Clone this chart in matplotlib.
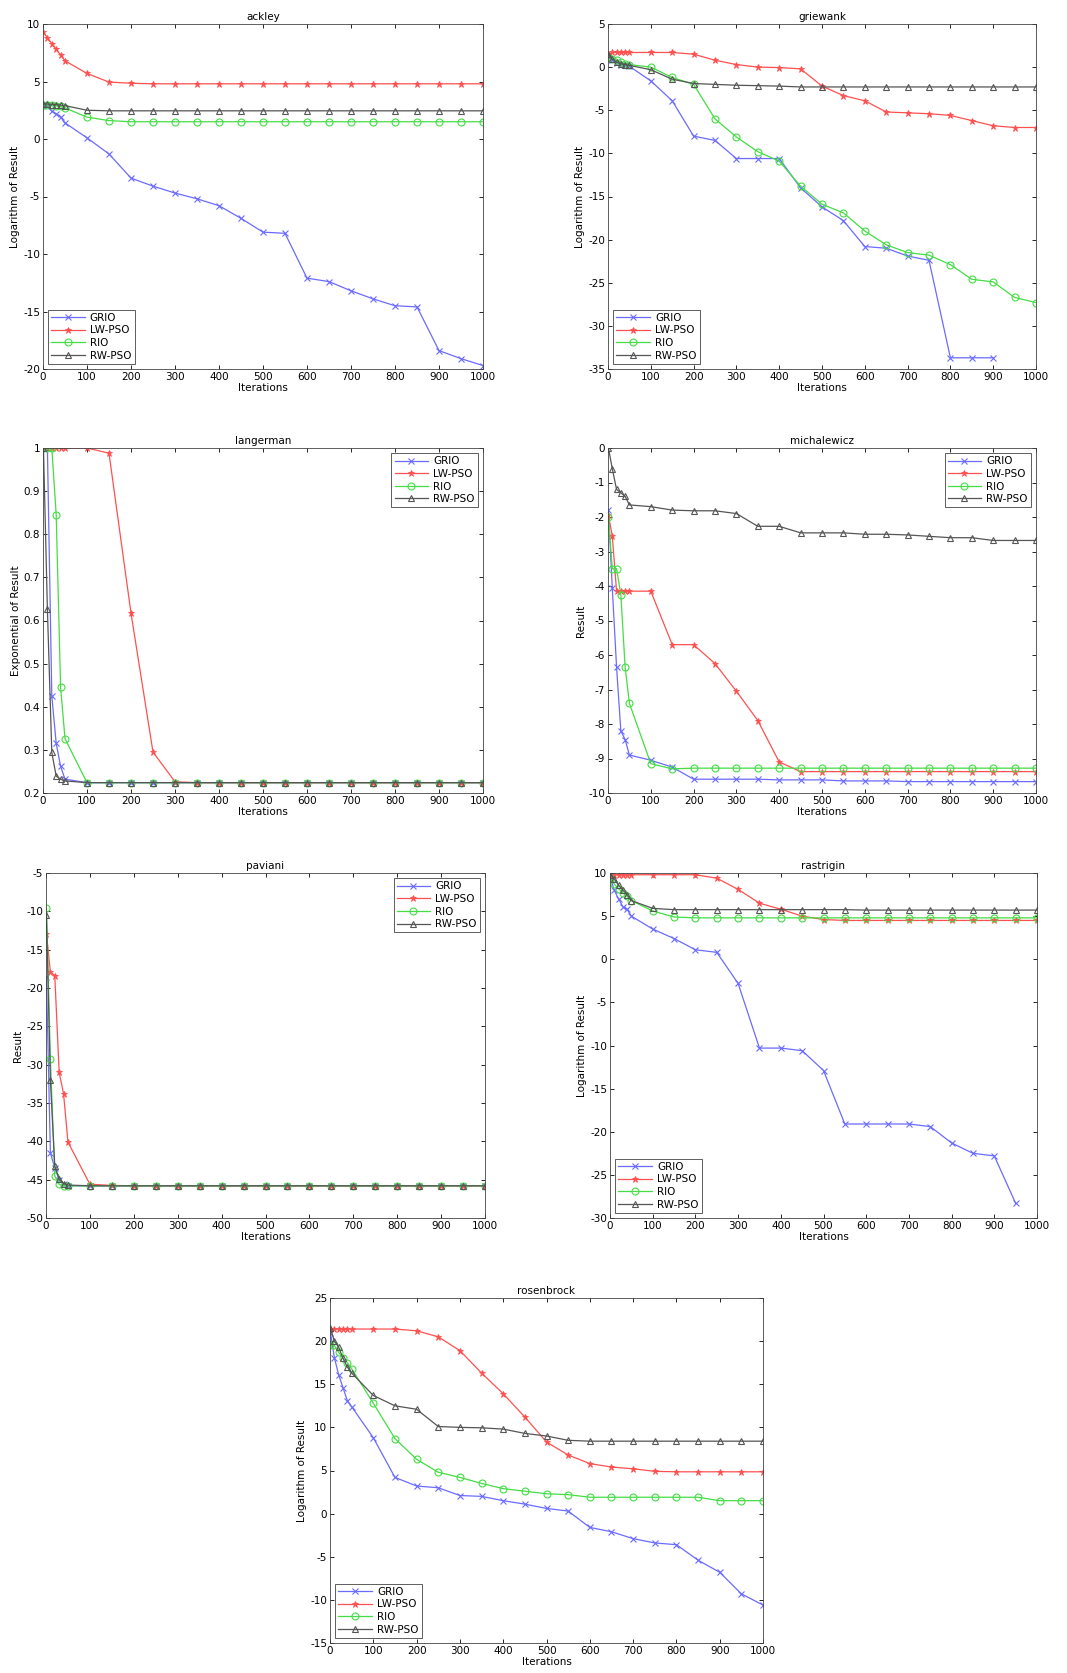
import numpy as np
import matplotlib
matplotlib.use('Agg')
import matplotlib.pyplot as plt

# iteration checkpoints
iters = [1, 10, 20, 30, 40, 50] + list(range(100, 1001, 50))
nan = np.nan

# ackley
ackley_grio = [3.0, 2.9, 2.4, 2.2, 1.9, 1.4, 0.1, -1.3, -3.4, -4.1, -4.7, -5.2, -5.8, -6.9, -8.1, -8.2,
               -12.1, -12.4, -13.2, -13.9, -14.5, -14.6, -18.4, -19.1, -19.7]
ackley_lw = [9.3, 8.8, 8.3, 7.8, 7.3, 6.8, 5.7, 4.95, 4.85] + [4.8] * 16
ackley_rio = [3.0, 3.0, 2.95, 2.9, 2.85, 2.7, 1.9, 1.6] + [1.5] * 17
ackley_rw = [3.05, 3.05, 3.0, 3.0, 2.95, 2.9, 2.5] + [2.45] * 18

# griewank
griewank_grio = [1.2, 0.8, 0.5, 0.3, 0.2, 0.1, -1.6, -3.9, -8.0, -8.5, -10.6, -10.6, -10.6, -14.0, -16.2,
                 -17.8, -20.8, -21.0, -21.9, -22.4, -33.7, -33.7, -33.7, nan, nan]
griewank_lw = [1.5, 1.7, 1.7, 1.7, 1.7, 1.7, 1.7, 1.7, 1.5, 0.8, 0.3, 0.0, -0.05, -0.2, -2.2, -3.3, -3.9,
               -5.2, -5.3, -5.4, -5.6, -6.2, -6.8, -7.0, -7.0]
griewank_rio = [1.2, 1.0, 0.8, 0.6, 0.4, 0.3, 0.0, -1.2, -2.0, -6.0, -8.1, -9.8, -10.9, -13.8, -15.9, -16.9,
                -19.0, -20.6, -21.5, -21.8, -22.9, -24.6, -24.9, -26.7, -27.3]
griewank_rw = [1.5, 0.9, 0.6, 0.4, 0.3, 0.2, -0.3, -1.4, -1.9, -2.0, -2.1, -2.15, -2.2] + [-2.3] * 12

# langerman
langerman_grio = [1.0, 1.0, 0.425, 0.315, 0.262, 0.232] + [0.224] * 19
langerman_lw = [1.0] * 7 + [0.988, 0.617, 0.295, 0.226] + [0.224] * 14
langerman_rio = [1.0, 1.0, 1.0, 0.845, 0.445, 0.326] + [0.224] * 19
langerman_rw = [1.0, 0.626, 0.294, 0.239, 0.232, 0.228] + [0.224] * 19

# michalewicz
mich_grio = [-1.8, -4.05, -6.35, -8.2, -8.45, -8.9, -9.05, -9.25, -9.6, -9.6, -9.6, -9.6, -9.62, -9.62,
             -9.62, -9.65, -9.65, -9.65] + [-9.67] * 7
mich_lw = [-1.95, -2.55, -4.15, -4.15, -4.15, -4.15, -4.15, -5.7, -5.7, -6.25, -7.05, -7.9, -9.1] + [-9.38] * 12
mich_rio = [-2.0, -3.5, -3.5, -4.25, -6.35, -7.4, -9.15, -9.3] + [-9.28] * 17
mich_rw = [0.0, -0.6, -1.2, -1.3, -1.4, -1.65, -1.7, -1.8, -1.82, -1.82, -1.9, -2.27, -2.27, -2.46, -2.46,
           -2.46, -2.5, -2.5, -2.52, -2.56, -2.6, -2.6, -2.68, -2.68, -2.68]

# paviani
pav_grio = [-18.5, -41.5, -43.5, -45.0, -45.6] + [-45.8] * 20
pav_lw = [-12.9, -17.9, -18.4, -31.0, -33.8, -40.1, -45.6, -45.75] + [-45.8] * 17
pav_rio = [-9.6, -29.2, -44.5, -45.6] + [-45.8] * 21
pav_rw = [-10.5, -32.0, -43.2, -44.9, -45.5, -45.7] + [-45.8] * 19

# rastrigin
ras_grio = [9.4, 8.0, 7.0, 6.1, 5.8, 5.0, 3.5, 2.4, 1.1, 0.8, -2.8, -10.3, -10.3, -10.6, -12.9, -19.1, -19.1,
            -19.1, -19.1, -19.4, -21.3, -22.5, -22.8, -28.3, nan]
ras_lw = [9.7] + [9.8] * 8 + [9.4, 8.1, 6.5, 5.8, 5.0, 4.6] + [4.5] * 10
ras_rio = [9.4, 8.7, 8.2, 7.7, 7.3, 6.8, 5.6, 4.9] + [4.8] * 17
ras_rw = [9.8, 9.3, 8.6, 8.0, 7.5, 6.8, 5.9] + [5.75] * 9 + [5.7] * 9

# rosenbrock
ros_grio = [21.0, 18.1, 16.1, 14.6, 13.1, 12.4, 8.8, 4.2, 3.2, 3.0, 2.1, 2.0, 1.5, 1.1, 0.6, 0.3, -1.6, -2.1,
            -2.9, -3.4, -3.6, -5.4, -6.8, -9.3, -10.6]
ros_lw = [21.4] * 8 + [21.2, 20.5, 18.9, 16.3, 13.9, 11.2, 8.3, 6.8, 5.8, 5.4, 5.2, 4.9] + [4.85] * 5
ros_rio = [19.6, 19.5, 18.7, 18.0, 17.5, 16.8, 12.8, 8.7, 6.3, 4.8, 4.2, 3.5, 2.9, 2.6, 2.3, 2.2] + \
          [1.9] * 6 + [1.5] * 3
ros_rw = [21.5, 20.0, 19.3, 18.0, 17.0, 16.3, 13.7, 12.5, 12.1, 10.1, 10.0, 9.95, 9.8, 9.3, 9.0, 8.5] + [8.4] * 9

labels = ['GRIO', 'LW-PSO', 'RIO', 'RW-PSO']
styles = [dict(color='#6b6bff', marker='x', ms=4, mew=0.8),
          dict(color='#ff5050', marker='*', ms=5, mew=0.6),
          dict(color='#44dd44', marker='o', ms=5, mfc='none', mew=0.8),
          dict(color='#555555', marker='^', ms=5, mfc='none', mew=0.8)]

W, H = 1067, 1673
fig = plt.figure(figsize=(W / 100, H / 100), dpi=100)


def panel(box, title, ylabel, series, ylim, yticks, legend_loc):
    l, t, r, b = box
    ax = fig.add_axes([l / W, 1 - b / H, (r - l) / W, (b - t) / H])
    for s, lab, st in zip(series, labels, styles):
        ax.plot(iters, s, label=lab, lw=0.9, **st)
    ax.set_xlim(0, 1000)
    ax.set_ylim(*ylim)
    ax.set_xticks(range(0, 1001, 100))
    ax.set_yticks(yticks)
    ax.set_yticklabels([('%g' % v) for v in yticks])
    ax.tick_params(direction='in', top=True, right=True, labelsize=7.5, length=3, width=0.6, pad=2)
    for sp in ax.spines.values():
        sp.set_linewidth(0.6)
        sp.set_color('#444444')
    ax.set_title(title, fontsize=7.5, pad=3)
    ax.set_xlabel('Iterations', fontsize=7.5, labelpad=1)
    ax.set_ylabel(ylabel, fontsize=7.5, labelpad=2)
    leg = ax.legend(loc=legend_loc, fontsize=7.5, fancybox=False, framealpha=1, edgecolor='#444444',
                    handlelength=3.2, borderpad=0.3, labelspacing=0.25, handletextpad=0.5)
    leg.get_frame().set_linewidth(0.6)
    return ax


panel((43, 24, 483, 369), 'ackley', 'Logarithm of Result',
      [ackley_grio, ackley_lw, ackley_rio, ackley_rw], (-20, 10), range(-20, 11, 5), 'lower left')
panel((608, 24, 1036, 369), 'griewank', 'Logarithm of Result',
      [griewank_grio, griewank_lw, griewank_rio, griewank_rw], (-35, 5), range(-35, 6, 5), 'lower left')
panel((43, 448, 483, 793), 'langerman', 'Exponential of Result',
      [langerman_grio, langerman_lw, langerman_rio, langerman_rw], (0.2, 1.0),
      [0.2, 0.3, 0.4, 0.5, 0.6, 0.7, 0.8, 0.9, 1.0], 'upper right')
panel((608, 448, 1036, 793), 'michalewicz', 'Result',
      [mich_grio, mich_lw, mich_rio, mich_rw], (-10, 0), range(-10, 1), 'upper right')
panel((46, 873, 485, 1218), 'paviani', 'Result',
      [pav_grio, pav_lw, pav_rio, pav_rw], (-50, -5), range(-50, -4, 5), 'upper right')
panel((610, 873, 1037, 1218), 'rastrigin', 'Logarithm of Result',
      [ras_grio, ras_lw, ras_rio, ras_rw], (-30, 10), range(-30, 11, 5), 'lower left')
panel((330, 1298, 763, 1643), 'rosenbrock', 'Logarithm of Result',
      [ros_grio, ros_lw, ros_rio, ros_rw], (-15, 25), range(-15, 26, 5), 'lower left')

fig.savefig('out.png', dpi=100)
